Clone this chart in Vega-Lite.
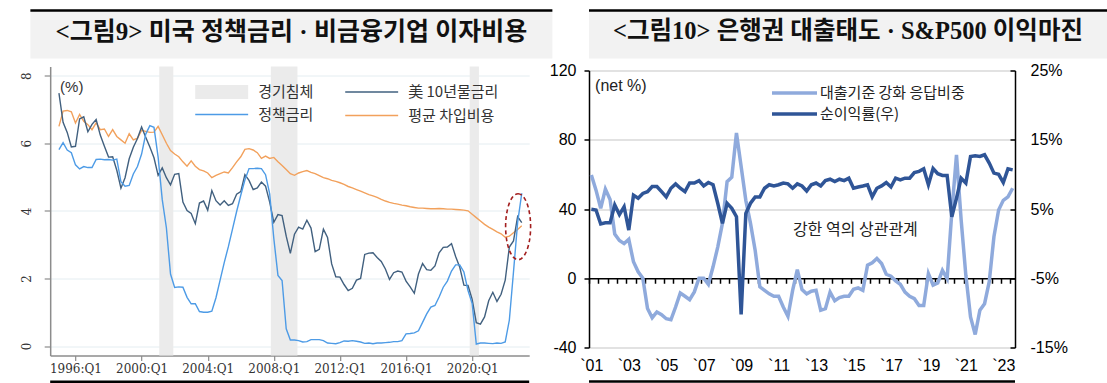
{
  "$schema": "https://vega.github.io/schema/vega-lite/v6.json",
  "padding": {"left": 20, "top": 8.5, "right": 0, "bottom": 0},
  "background": "white",
  "config": {"view": {"stroke": null}, "legend": {"padding": 0}},
  "datasets": {
    "rec": [{"s": 2001.07, "e": 2001.92}, {"s": 2007.82, "e": 2009.43}, {"s": 2019.85, "e": 2020.41}],
    "left": [
      {"t":1995,"ust":7.48,"ff":5.81,"cost":6.50},{"t":1995.25,"ust":6.62,"ff":6.02,"cost":6.95},{"t":1995.5,"ust":6.32,"ff":5.80,"cost":6.97},{"t":1995.75,"ust":5.89,"ff":5.72,"cost":6.93},
      {"t":1996,"ust":5.91,"ff":5.36,"cost":6.60},{"t":1996.25,"ust":6.72,"ff":5.24,"cost":6.85},{"t":1996.5,"ust":6.78,"ff":5.31,"cost":6.65},{"t":1996.75,"ust":6.34,"ff":5.28,"cost":6.55},
      {"t":1997,"ust":6.56,"ff":5.28,"cost":6.40},{"t":1997.25,"ust":6.70,"ff":5.52,"cost":6.60},{"t":1997.5,"ust":6.24,"ff":5.53,"cost":6.40},{"t":1997.75,"ust":5.91,"ff":5.51,"cost":6.42},
      {"t":1998,"ust":5.59,"ff":5.52,"cost":6.20},{"t":1998.25,"ust":5.60,"ff":5.50,"cost":6.40},{"t":1998.5,"ust":5.20,"ff":5.53,"cost":6.20},{"t":1998.75,"ust":4.67,"ff":4.86,"cost":6.10},
      {"t":1999,"ust":4.98,"ff":4.73,"cost":6.00},{"t":1999.25,"ust":5.54,"ff":4.75,"cost":6.28},{"t":1999.5,"ust":5.88,"ff":5.09,"cost":6.10},{"t":1999.75,"ust":6.14,"ff":5.31,"cost":6.15},
      {"t":2000,"ust":6.48,"ff":5.68,"cost":6.38},{"t":2000.25,"ust":6.18,"ff":6.27,"cost":6.35},{"t":2000.5,"ust":5.89,"ff":6.52,"cost":6.32},{"t":2000.75,"ust":5.57,"ff":6.47,"cost":6.33},
      {"t":2001,"ust":5.05,"ff":5.59,"cost":6.50},{"t":2001.25,"ust":5.27,"ff":4.33,"cost":6.25},{"t":2001.5,"ust":4.98,"ff":3.50,"cost":6.00},{"t":2001.75,"ust":4.77,"ff":2.13,"cost":5.78},
      {"t":2002,"ust":5.08,"ff":1.73,"cost":5.68},{"t":2002.25,"ust":5.10,"ff":1.75,"cost":5.60},{"t":2002.5,"ust":4.26,"ff":1.74,"cost":5.45},{"t":2002.75,"ust":4.01,"ff":1.44,"cost":5.32},
      {"t":2003,"ust":3.92,"ff":1.25,"cost":5.48},{"t":2003.25,"ust":3.62,"ff":1.25,"cost":5.32},{"t":2003.5,"ust":4.23,"ff":1.02,"cost":5.22},{"t":2003.75,"ust":4.29,"ff":1.00,"cost":5.18},
      {"t":2004,"ust":4.02,"ff":1.00,"cost":5.12},{"t":2004.25,"ust":4.60,"ff":1.03,"cost":4.98},{"t":2004.5,"ust":4.30,"ff":1.43,"cost":5.05},{"t":2004.75,"ust":4.17,"ff":1.95,"cost":5.10},
      {"t":2005,"ust":4.30,"ff":2.47,"cost":5.15},{"t":2005.25,"ust":4.16,"ff":2.94,"cost":5.12},{"t":2005.5,"ust":4.21,"ff":3.46,"cost":5.28},{"t":2005.75,"ust":4.49,"ff":3.98,"cost":5.45},
      {"t":2006,"ust":4.57,"ff":4.46,"cost":5.60},{"t":2006.25,"ust":5.07,"ff":4.91,"cost":5.82},{"t":2006.5,"ust":4.90,"ff":5.25,"cost":5.84},{"t":2006.75,"ust":4.63,"ff":5.25,"cost":5.80},
      {"t":2007,"ust":4.68,"ff":5.26,"cost":5.72},{"t":2007.25,"ust":4.85,"ff":5.25,"cost":5.55},{"t":2007.5,"ust":4.73,"ff":5.07,"cost":5.62},{"t":2007.75,"ust":4.26,"ff":4.50,"cost":5.55},
      {"t":2008,"ust":3.66,"ff":3.18,"cost":5.58},{"t":2008.25,"ust":3.89,"ff":2.09,"cost":5.45},{"t":2008.5,"ust":3.86,"ff":1.94,"cost":5.34},{"t":2008.75,"ust":3.25,"ff":0.51,"cost":5.22},
      {"t":2009,"ust":2.74,"ff":0.18,"cost":5.10},{"t":2009.25,"ust":3.31,"ff":0.18,"cost":5.05},{"t":2009.5,"ust":3.52,"ff":0.16,"cost":5.12},{"t":2009.75,"ust":3.46,"ff":0.12,"cost":5.16},
      {"t":2010,"ust":3.72,"ff":0.13,"cost":5.19},{"t":2010.25,"ust":3.49,"ff":0.19,"cost":5.14},{"t":2010.5,"ust":2.79,"ff":0.19,"cost":5.10},{"t":2010.75,"ust":2.86,"ff":0.19,"cost":5.04},
      {"t":2011,"ust":3.46,"ff":0.16,"cost":4.98},{"t":2011.25,"ust":3.21,"ff":0.09,"cost":4.95},{"t":2011.5,"ust":2.43,"ff":0.08,"cost":4.90},{"t":2011.75,"ust":2.05,"ff":0.07,"cost":4.87},
      {"t":2012,"ust":2.04,"ff":0.10,"cost":4.83},{"t":2012.25,"ust":1.82,"ff":0.15,"cost":4.78},{"t":2012.5,"ust":1.64,"ff":0.14,"cost":4.72},{"t":2012.75,"ust":1.71,"ff":0.16,"cost":4.68},
      {"t":2013,"ust":1.95,"ff":0.14,"cost":4.63},{"t":2013.25,"ust":2.00,"ff":0.12,"cost":4.58},{"t":2013.5,"ust":2.71,"ff":0.08,"cost":4.53},{"t":2013.75,"ust":2.75,"ff":0.09,"cost":4.48},
      {"t":2014,"ust":2.76,"ff":0.07,"cost":4.44},{"t":2014.25,"ust":2.62,"ff":0.09,"cost":4.40},{"t":2014.5,"ust":2.50,"ff":0.09,"cost":4.34},{"t":2014.75,"ust":2.28,"ff":0.10,"cost":4.29},
      {"t":2015,"ust":1.97,"ff":0.11,"cost":4.25},{"t":2015.25,"ust":2.17,"ff":0.13,"cost":4.22},{"t":2015.5,"ust":2.22,"ff":0.13,"cost":4.20},{"t":2015.75,"ust":2.19,"ff":0.16,"cost":4.17},
      {"t":2016,"ust":1.92,"ff":0.36,"cost":4.15},{"t":2016.25,"ust":1.75,"ff":0.37,"cost":4.12},{"t":2016.5,"ust":1.56,"ff":0.39,"cost":4.10},{"t":2016.75,"ust":2.13,"ff":0.45,"cost":4.08},
      {"t":2017,"ust":2.44,"ff":0.70,"cost":4.08},{"t":2017.25,"ust":2.26,"ff":0.95,"cost":4.07},{"t":2017.5,"ust":2.24,"ff":1.15,"cost":4.06},{"t":2017.75,"ust":2.37,"ff":1.20,"cost":4.06},
      {"t":2018,"ust":2.76,"ff":1.45,"cost":4.07},{"t":2018.25,"ust":2.92,"ff":1.74,"cost":4.06},{"t":2018.5,"ust":2.93,"ff":1.92,"cost":4.05},{"t":2018.75,"ust":3.03,"ff":2.22,"cost":4.05},
      {"t":2019,"ust":2.65,"ff":2.40,"cost":4.04},{"t":2019.25,"ust":2.33,"ff":2.40,"cost":4.03},{"t":2019.5,"ust":1.80,"ff":2.19,"cost":4.02},{"t":2019.75,"ust":1.79,"ff":1.64,"cost":4.00},
      {"t":2020,"ust":1.38,"ff":1.26,"cost":3.90},{"t":2020.25,"ust":0.69,"ff":0.06,"cost":3.80},{"t":2020.5,"ust":0.65,"ff":0.09,"cost":3.70},{"t":2020.75,"ust":0.86,"ff":0.09,"cost":3.60},
      {"t":2021,"ust":1.34,"ff":0.08,"cost":3.52},{"t":2021.25,"ust":1.59,"ff":0.07,"cost":3.45},{"t":2021.5,"ust":1.32,"ff":0.09,"cost":3.38},{"t":2021.75,"ust":1.53,"ff":0.08,"cost":3.32},
      {"t":2022,"ust":1.95,"ff":0.12,"cost":3.22},{"t":2022.25,"ust":2.93,"ff":0.77,"cost":3.25},{"t":2022.5,"ust":3.11,"ff":2.19,"cost":3.35},{"t":2022.75,"ust":3.83,"ff":3.65,"cost":3.45},
      {"t":2023,"ust":3.65,"ff":4.52,"cost":3.56}
    ],
    "right": [
      {"t":2001,"tight":59.7,"margin":4.95},{"t":2001.25,"tight":50.9,"margin":4.85},{"t":2001.5,"tight":40.4,"margin":2.83},{"t":2001.75,"tight":51.5,"margin":3.0},
      {"t":2002,"tight":45.5,"margin":3.0},{"t":2002.25,"tight":25.5,"margin":5.58},{"t":2002.5,"tight":21.8,"margin":4.2},{"t":2002.75,"tight":20.0,"margin":5.33},
      {"t":2003,"tight":22.5,"margin":1.95},{"t":2003.25,"tight":9.5,"margin":7.0},{"t":2003.5,"tight":3.7,"margin":6.55},{"t":2003.75,"tight":0.0,"margin":7.25},
      {"t":2004,"tight":-17.5,"margin":7.5},{"t":2004.25,"tight":-22.8,"margin":8.25},{"t":2004.5,"tight":-19.5,"margin":8.25},{"t":2004.75,"tight":-21.0,"margin":7.5},
      {"t":2005,"tight":-23.4,"margin":6.75},{"t":2005.25,"tight":-24.0,"margin":8.0},{"t":2005.5,"tight":-16.6,"margin":8.63},{"t":2005.75,"tight":-8.5,"margin":8.0},
      {"t":2006,"tight":-10.4,"margin":7.5},{"t":2006.25,"tight":-12.4,"margin":8.75},{"t":2006.5,"tight":-7.9,"margin":8.75},{"t":2006.75,"tight":0.0,"margin":9.1},
      {"t":2007,"tight":0.0,"margin":8.33},{"t":2007.25,"tight":-3.5,"margin":8.83},{"t":2007.5,"tight":6.6,"margin":8.5},{"t":2007.75,"tight":18.0,"margin":5.83},
      {"t":2008,"tight":31.7,"margin":2.93},{"t":2008.25,"tight":55.8,"margin":5.83},{"t":2008.5,"tight":58.4,"margin":5.1},{"t":2008.75,"tight":83.9,"margin":3.88},
      {"t":2009,"tight":64.5,"margin":-10.23},{"t":2009.25,"tight":45.0,"margin":4.35},{"t":2009.5,"tight":31.7,"margin":5.83},{"t":2009.75,"tight":16.0,"margin":6.75},
      {"t":2010,"tight":-5.0,"margin":6.75},{"t":2010.25,"tight":-7.0,"margin":8.0},{"t":2010.5,"tight":-9.0,"margin":8.5},{"t":2010.75,"tight":-10.4,"margin":8.33},
      {"t":2011,"tight":-10.4,"margin":8.5},{"t":2011.25,"tight":-16.6,"margin":8.75},{"t":2011.5,"tight":-22.0,"margin":8.63},{"t":2011.75,"tight":-7.0,"margin":8.0},
      {"t":2012,"tight":5.0,"margin":8.63},{"t":2012.25,"tight":-6.6,"margin":8.33},{"t":2012.5,"tight":-9.0,"margin":7.6},{"t":2012.75,"tight":-7.5,"margin":8.5},
      {"t":2013,"tight":-7.0,"margin":8.75},{"t":2013.25,"tight":-18.5,"margin":8.33},{"t":2013.5,"tight":-17.6,"margin":9.1},{"t":2013.75,"tight":-8.0,"margin":9.3},
      {"t":2014,"tight":-13.0,"margin":8.95},{"t":2014.25,"tight":-11.2,"margin":9.3},{"t":2014.5,"tight":-10.4,"margin":9.1},{"t":2014.75,"tight":-10.4,"margin":9.45},
      {"t":2015,"tight":-6.4,"margin":8.0},{"t":2015.25,"tight":-5.6,"margin":8.18},{"t":2015.5,"tight":-7.0,"margin":8.33},{"t":2015.75,"tight":7.5,"margin":8.5},
      {"t":2016,"tight":8.9,"margin":6.75},{"t":2016.25,"tight":11.4,"margin":8.0},{"t":2016.5,"tight":8.5,"margin":8.33},{"t":2016.75,"tight":2.3,"margin":8.83},
      {"t":2017,"tight":1.2,"margin":8.18},{"t":2017.25,"tight":-1.5,"margin":9.45},{"t":2017.5,"tight":-3.5,"margin":9.2},{"t":2017.75,"tight":-8.0,"margin":9.45},
      {"t":2018,"tight":-10.4,"margin":9.45},{"t":2018.25,"tight":-11.8,"margin":10.25},{"t":2018.5,"tight":-15.7,"margin":10.43},{"t":2018.75,"tight":-15.7,"margin":10.8},
      {"t":2019,"tight":2.7,"margin":8.5},{"t":2019.25,"tight":-4.0,"margin":10.85},{"t":2019.5,"tight":-2.7,"margin":10.1},{"t":2019.75,"tight":4.6,"margin":9.85},
      {"t":2020,"tight":-0.2,"margin":9.85},{"t":2020.25,"tight":38.0,"margin":3.88},{"t":2020.5,"tight":71.3,"margin":6.55},{"t":2020.75,"tight":33.6,"margin":9.45},
      {"t":2021,"tight":1.7,"margin":8.75},{"t":2021.25,"tight":-22.4,"margin":12.58},{"t":2021.5,"tight":-32.5,"margin":12.68},{"t":2021.75,"tight":-18.5,"margin":12.58},
      {"t":2022,"tight":-14.7,"margin":12.83},{"t":2022.25,"tight":-2.0,"margin":11.63},{"t":2022.5,"tight":24.0,"margin":10.18},{"t":2022.75,"tight":39.4,"margin":10.0},
      {"t":2023,"tight":45.0,"margin":8.83},{"t":2023.25,"tight":47.0,"margin":10.8},{"t":2023.5,"tight":52.0,"margin":10.65}
    ]
  },
  "spacing": -5,
  "resolve": {"scale": {"color": "independent", "fill": "independent", "stroke": "independent"}, "legend": {"color": "independent", "fill": "independent", "stroke": "independent"}},
  "hconcat": [
    {
      "spacing": 8,
      "center": true,
      "resolve": {"scale": {"color": "independent", "fill": "independent", "stroke": "independent"}, "legend": {"color": "independent", "fill": "independent", "stroke": "independent"}},
      "vconcat": [
        {
          "width": 522, "height": 48,
          "view": {"fill": "#f2f2f2", "stroke": null},
          "data": {"values": [{"title": "<그림9> 미국 정책금리 · 비금융기업 이자비용"}]},
          "layer": [
            {"mark": {"type": "rule", "color": "#000", "strokeWidth": 2.5},
             "encoding": {"y": {"datum": 1, "type": "quantitative", "scale": {"domain": [0, 1], "nice": false}, "axis": null}}},
            {"mark": {"type": "text", "font": "Liberation Serif, Noto Sans CJK KR", "fontSize": 25, "fontWeight": "bold", "color": "#111", "baseline": "middle"},
             "encoding": {"text": {"field": "title"}, "y": {"datum": 0.55, "type": "quantitative", "scale": {"domain": [0, 1], "nice": false}, "axis": null}}}
          ]
        },
        {
          "width": 479, "height": 289,
          "layer": [
            {"data": {"name": "rec"},
             "mark": {"type": "rect"},
             "encoding": {
               "x": {"field": "s", "type": "quantitative", "scale": {"domain": [1994.47, 2023.45], "nice": false, "zero": false},
                     "axis": {"values": [1996, 2000, 2004, 2008, 2012, 2016, 2020], "labelExpr": "datum.value + ':Q1'", "title": null, "grid": false, "labelFont": "DejaVu Serif", "labelFontSize": 12, "labelColor": "#333", "domainColor": "#8c8c8c", "domainWidth": 1.5, "tickColor": "#8c8c8c", "tickWidth": 1.2, "tickSize": 5, "labelPadding": 3}},
               "x2": {"field": "e"},
               "fill": {"datum": "경기침체", "scale": {"domain": ["경기침체"], "range": ["#ebebeb"]},
                        "legend": {"orient": "none", "legendX": 164, "legendY": 18, "title": null, "symbolType": "M-5,-1.3H5V1.3H-5Z", "symbolSize": 112, "labelOffset": 29, "labelFont": "Noto Sans CJK KR", "labelFontSize": 15, "labelColor": "#333"}}
             }},
            {"data": {"name": "left"},
             "mark": {"type": "line", "strokeWidth": 1.4},
             "encoding": {
               "x": {"field": "t", "type": "quantitative", "scale": {"domain": [1994.47, 2023.45], "nice": false, "zero": false}},
               "y": {"field": "cost", "type": "quantitative", "scale": {"domain": [-0.28, 8.27], "nice": false, "zero": false},
                     "axis": {"values": [0, 2, 4, 6, 8], "title": null, "grid": true, "gridColor": "#e4edf1", "gridWidth": 1, "labelAngle": -90, "labelAlign": "center", "labelBaseline": "bottom", "labelFont": "DejaVu Serif", "labelFontSize": 12, "labelColor": "#333", "domainColor": "#8c8c8c", "domainWidth": 1.5, "tickColor": "#8c8c8c", "tickWidth": 1.2, "tickSize": 6, "labelPadding": 11}},
               "stroke": {"datum": "평균 차입비용", "scale": {"domain": ["美 10년물금리", "평균 차입비용"], "range": ["#41607f", "#f2a15c"]},
                          "legend": {"orient": "none", "legendX": 314, "legendY": 18, "direction": "vertical", "title": null, "symbolType": "M-5,0H5", "symbolSize": 112, "symbolStrokeWidth": 1.5, "labelOffset": 29, "labelFont": "Noto Sans CJK KR", "labelFontSize": 15, "labelColor": "#333", "rowPadding": 7.5}}
             }},
            {"data": {"name": "left"},
             "mark": {"type": "line", "strokeWidth": 1.4},
             "encoding": {
               "x": {"field": "t", "type": "quantitative", "scale": {"domain": [1994.47, 2023.45], "nice": false, "zero": false}},
               "y": {"field": "ust", "type": "quantitative", "scale": {"domain": [-0.28, 8.27], "nice": false, "zero": false}},
               "stroke": {"datum": "美 10년물금리", "scale": {"domain": ["美 10년물금리", "평균 차입비용"], "range": ["#41607f", "#f2a15c"]},
                          "legend": {"orient": "none", "legendX": 314, "legendY": 18, "direction": "vertical", "title": null, "symbolType": "M-5,0H5", "symbolSize": 112, "symbolStrokeWidth": 1.5, "labelOffset": 29, "labelFont": "Noto Sans CJK KR", "labelFontSize": 15, "labelColor": "#333", "rowPadding": 7.5}}
             }},
            {"data": {"name": "left"},
             "mark": {"type": "line", "strokeWidth": 1.4},
             "encoding": {
               "x": {"field": "t", "type": "quantitative", "scale": {"domain": [1994.47, 2023.45], "nice": false, "zero": false}},
               "y": {"field": "ff", "type": "quantitative", "scale": {"domain": [-0.28, 8.27], "nice": false, "zero": false}},
               "color": {"datum": "정책금리", "scale": {"domain": ["정책금리"], "range": ["#4d9be6"]},
                         "legend": {"orient": "none", "legendX": 164, "legendY": 40.5, "title": null, "symbolType": "M-5,0H5", "symbolSize": 112, "symbolStrokeWidth": 1.5, "labelOffset": 29, "labelFont": "Noto Sans CJK KR", "labelFontSize": 15, "labelColor": "#333"}}
             }},
            {"data": {"values": [{}]},
             "mark": {"type": "point", "shape": "M0,-2.64A1,2.64,0,1,1,0,2.64A1,2.64,0,1,1,0,-2.64Z", "size": 625, "filled": false, "color": "#a31f1f", "strokeDash": [4, 3], "strokeWidth": 1.6, "opacity": 1},
             "encoding": {
               "x": {"datum": 2022.78, "type": "quantitative", "scale": {"domain": [1994.47, 2023.45], "nice": false, "zero": false}},
               "y": {"datum": 3.53, "type": "quantitative", "scale": {"domain": [-0.28, 8.27], "nice": false, "zero": false}}
             }},
            {"data": {"values": [{}]},
             "mark": {"type": "text", "align": "left", "baseline": "middle", "font": "Liberation Sans", "fontSize": 15, "color": "#333"},
             "encoding": {
               "x": {"datum": 1995.07, "type": "quantitative", "scale": {"domain": [1994.47, 2023.45], "nice": false, "zero": false}},
               "y": {"datum": 7.67, "type": "quantitative", "scale": {"domain": [-0.28, 8.27], "nice": false, "zero": false}},
               "text": {"value": "(%)"}
             }},
            {"data": {"values": [{}]},
             "mark": {"type": "rule", "color": "#000", "strokeWidth": 2.5},
             "encoding": {
               "y": {"datum": -1.06, "type": "quantitative", "scale": {"domain": [-0.28, 8.27], "nice": false, "zero": false}}
             }}
          ]
        }
      ]
    },
    {
      "spacing": 4,
      "resolve": {"scale": {"color": "independent", "fill": "independent", "stroke": "independent"}, "legend": {"color": "independent", "fill": "independent", "stroke": "independent"}},
      "vconcat": [
        {
          "width": 518, "height": 48,
          "view": {"fill": "#f2f2f2", "stroke": null},
          "data": {"values": [{"title": "<그림10> 은행권 대출태도 · S&P500 이익마진"}]},
          "layer": [
            {"mark": {"type": "rule", "color": "#000", "strokeWidth": 2.5},
             "encoding": {"y": {"datum": 1, "type": "quantitative", "scale": {"domain": [0, 1], "nice": false}, "axis": null}}},
            {"mark": {"type": "text", "font": "Liberation Serif, Noto Sans CJK KR", "fontSize": 24.5, "fontWeight": "bold", "color": "#111", "baseline": "middle"},
             "encoding": {"text": {"field": "title"}, "y": {"datum": 0.55, "type": "quantitative", "scale": {"domain": [0, 1], "nice": false}, "axis": null}}}
          ]
        },
        {
          "width": 426, "height": 277,
          "layer": [
            {
              "layer": [
                {"data": {"name": "right"},
                 "mark": {"type": "line", "strokeWidth": 3.5},
                 "encoding": {
                   "x": {"field": "t", "type": "quantitative", "scale": {"domain": [2000.875, 2023.625], "nice": false, "zero": false},
                         "axis": {"orient": "bottom", "values": [2001, 2003, 2005, 2007, 2009, 2011, 2013, 2015, 2017, 2019, 2021, 2023], "labelExpr": "'`' + slice(toString(datum.value), 2)", "labelOverlap": false, "labelSeparation": -30, "labelFlush": false, "domain": false, "ticks": false, "grid": false, "title": null, "labelFont": "Liberation Sans", "labelFontSize": 16, "labelColor": "#000", "labelPadding": 10}},
                   "y": {"field": "tight", "type": "quantitative", "scale": {"domain": [-40, 120], "nice": false, "zero": false},
                         "axis": {"values": [-40, 0, 40, 80, 120], "labelExpr": "toString(datum.value)", "title": null, "grid": true, "gridColor": {"condition": {"test": "datum.value === 0", "value": "transparent"}, "value": "#d9d9d9"}, "gridWidth": 1.6, "domainColor": "#000", "domainWidth": 1.5, "tickColor": "#000", "tickWidth": 1.5, "tickSize": 5, "labelFont": "Liberation Sans", "labelFontSize": 16, "labelColor": "#000", "labelPadding": 8}},
                   "color": {"datum": "대출기준 강화 응답비중", "scale": {"domain": ["대출기준 강화 응답비중", "순이익률(우)"], "range": ["#8faadc", "#2f5597"]},
                             "legend": {"orient": "none", "legendX": 198, "legendY": 15, "direction": "vertical", "title": null, "symbolType": "M-5,0H5", "symbolSize": 81, "symbolStrokeWidth": 3.5, "labelOffset": 18, "labelFont": "Noto Sans CJK KR", "labelFontSize": 15, "labelColor": "#222", "rowPadding": 5}}
                 }},
                {"data": {"values": [{}]},
                 "mark": {"type": "text", "align": "left", "baseline": "middle", "font": "Liberation Sans", "fontSize": 16, "color": "#222"},
                 "encoding": {
                   "x": {"datum": 2001.2, "type": "quantitative", "scale": {"domain": [2000.875, 2023.625], "nice": false, "zero": false},
                         "axis": {"orient": "bottom", "values": [2001, 2003, 2005, 2007, 2009, 2011, 2013, 2015, 2017, 2019, 2021, 2023], "labelExpr": "'`' + slice(toString(datum.value), 2)", "labelOverlap": false, "labelSeparation": -30, "labelFlush": false, "domain": false, "ticks": false, "grid": false, "title": null, "labelFont": "Liberation Sans", "labelFontSize": 16, "labelColor": "#000", "labelPadding": 10}},
                   "y": {"datum": 110.9, "type": "quantitative", "scale": {"domain": [-40, 120], "nice": false, "zero": false}},
                   "text": {"value": "(net %)"}
                 }},
                {"data": {"values": [{}]},
                 "mark": {"type": "text", "align": "center", "baseline": "middle", "font": "Noto Sans CJK KR", "fontSize": 16, "color": "#222"},
                 "encoding": {
                   "x": {"datum": 2015.1, "type": "quantitative", "scale": {"domain": [2000.875, 2023.625], "nice": false, "zero": false},
                         "axis": {"orient": "bottom", "values": [2001, 2003, 2005, 2007, 2009, 2011, 2013, 2015, 2017, 2019, 2021, 2023], "labelExpr": "'`' + slice(toString(datum.value), 2)", "labelOverlap": false, "labelSeparation": -30, "labelFlush": false, "domain": false, "ticks": false, "grid": false, "title": null, "labelFont": "Liberation Sans", "labelFontSize": 16, "labelColor": "#000", "labelPadding": 10}},
                   "y": {"datum": 27.8, "type": "quantitative", "scale": {"domain": [-40, 120], "nice": false, "zero": false}},
                   "text": {"value": "강한 역의 상관관계"}
                 }},
                {"data": {"values": [{}]},
                 "mark": {"type": "rule", "color": "#000", "strokeWidth": 2.5},
                 "encoding": {
                   "y": {"datum": -59.7, "type": "quantitative", "scale": {"domain": [-40, 120], "nice": false, "zero": false}}
                 }}
              ]
            },
            {"data": {"name": "right"},
             "mark": {"type": "line", "strokeWidth": 3.5},
             "encoding": {
               "x": {"field": "t", "type": "quantitative", "scale": {"domain": [2000.875, 2023.625], "nice": false, "zero": false},
                     "axis": {"orient": "bottom", "offset": -69.25, "values": [2000.875, 2001.375, 2001.875, 2002.375, 2002.875, 2003.375, 2003.875, 2004.375, 2004.875, 2005.375, 2005.875, 2006.375, 2006.875, 2007.375, 2007.875, 2008.375, 2008.875, 2009.375, 2009.875, 2010.375, 2010.875, 2011.375, 2011.875, 2012.375, 2012.875, 2013.375, 2013.875, 2014.375, 2014.875, 2015.375, 2015.875, 2016.375, 2016.875, 2017.375, 2017.875, 2018.375, 2018.875, 2019.375, 2019.875, 2020.375, 2020.875, 2021.375, 2021.875, 2022.375, 2022.875, 2023.375], "labels": false, "grid": false, "title": null, "domainColor": "#000", "domainWidth": 1.5, "tickColor": "#000", "tickWidth": 1.5, "tickSize": 5}},
               "y": {"field": "margin", "type": "quantitative", "scale": {"domain": [-15, 25], "nice": false, "zero": false},
                     "axis": {"orient": "right", "values": [-15, -5, 5, 15, 25], "labelExpr": "datum.value + '%'", "title": null, "grid": false, "domainColor": "#000", "domainWidth": 1.5, "tickColor": "#000", "tickWidth": 1.5, "tickSize": -5, "labelPadding": 20, "labelFont": "Liberation Sans", "labelFontSize": 16, "labelColor": "#000"}},
               "color": {"datum": "순이익률(우)", "scale": {"domain": ["대출기준 강화 응답비중", "순이익률(우)"], "range": ["#8faadc", "#2f5597"]}}
             }}
          ],
          "resolve": {"scale": {"y": "independent"}, "axis": {"x": "independent", "y": "independent"}}
        }
      ]
    }
  ]
}
